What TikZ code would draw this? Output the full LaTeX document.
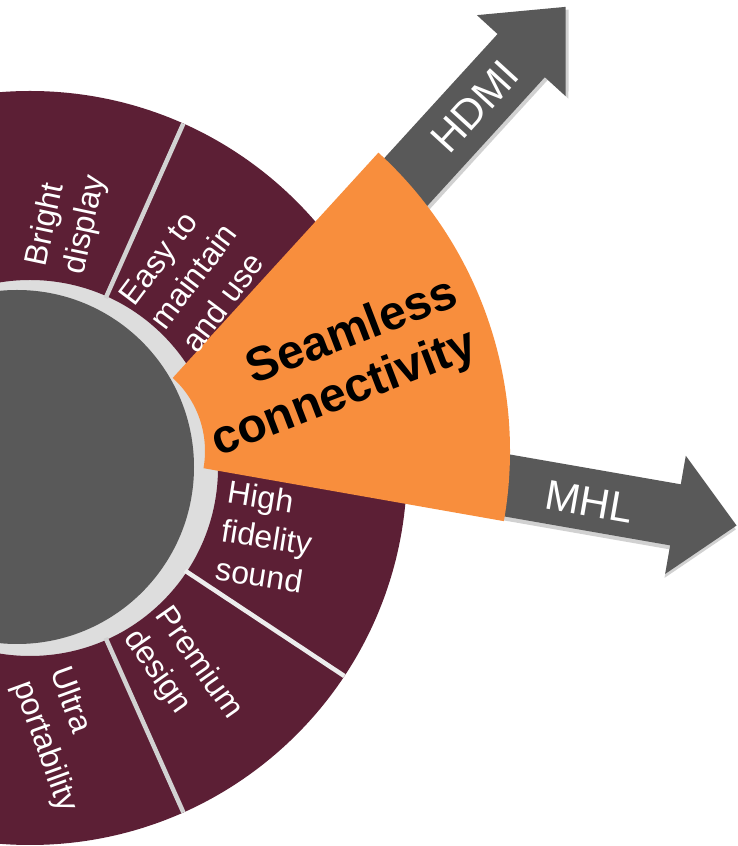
\documentclass[tikz,border=0pt]{standalone}
\usepackage{fontspec}
\setmainfont{Liberation Sans}
\usetikzlibrary{calc}
\definecolor{SegmentMaroon}{HTML}{5C1F35}
\definecolor{FocusOrange}{HTML}{F88E3D}
\definecolor{HubGray}{HTML}{595959}
\definecolor{RingGray}{HTML}{DDDDDD}
\definecolor{GapGrayA}{HTML}{D2D2D2}
\definecolor{GapGrayB}{HTML}{EDEDED}
\definecolor{BackdropGray}{HTML}{B3B3B3}
\pgfdeclareradialshading{BackdropGlow}{\pgfpoint{0bp}{0bp}}
{
  color(0bp)=(white); color(26.9bp)=(white);
  color(46.25bp)=(BackdropGray); color(50bp)=(BackdropGray)
}
\tikzset
{
  SegmentTextStyle/.style =
  {
    text = white,
    align = left,
    inner sep = 0pt,
    font = \fontsize{32}{39}\selectfont,
  },
  FocusTextStyle/.style =
  {
    text = black,
    align = right,
    inner sep = 0pt,
    font = \fontsize{48}{55}\selectfont\bfseries,
  },
  ArrowTextStyle/.style =
  {
    text = white,
    inner sep = 0pt,
    font = \fontsize{42}{48}\selectfont,
  },
  ArrowShadowStyle/.style =
  {
    fill = black,
    opacity = 0.18,
    yshift = -4pt,
  }
}

\begin{document}
\begin{tikzpicture}[x=1pt, y=1pt]
  \useasboundingbox (0,0) rectangle (737,846);
  \clip (0,0) rectangle (737,846);
  \shade[shading=BackdropGlow] (600,416) circle (800);

  \coordinate (hub) at (30,378);
  \coordinate (focus) at (106,395);

  \fill[RingGray] (hub) circle (190);
  \fill[SegmentMaroon, even odd rule] (hub) circle (377) (hub) circle (188);
  \draw[line width=4.5pt, GapGrayA] ($(hub)+(66:186)$) -- ($(hub)+(66:377)$);
  \draw[line width=4.5pt, GapGrayB] ($(hub)+(-33.5:186)$) -- ($(hub)+(-33.5:377)$);
  \draw[line width=4.5pt, GapGrayA] ($(hub)+(-66:186)$) -- ($(hub)+(-66:377)$);
  \node[circle, fill=HubGray, inner sep=0pt, minimum size=354pt] (hubdisk) at (17,379) {};

  \begin{scope}[shift={(focus)}, rotate=47.6]
    \fill[ArrowShadowStyle] (200,-72) -- (572,-72) -- (572,-100) -- (638,-40)
      -- (572,20) -- (572,-8) -- (200,-8) -- cycle;
    \fill[HubGray] (200,-72) -- (572,-72) -- (572,-100) -- (638,-40)
      -- (572,20) -- (572,-8) -- (200,-8) -- cycle;
    \node[ArrowTextStyle, rotate=47.6] (hdmi) at (503,-40) {HDMI};
  \end{scope}

  \begin{scope}[shift={(focus)}, rotate=-9.9]
    \fill[ArrowShadowStyle] (200,4) -- (572,4) -- (572,-25) -- (634,35)
      -- (572,95) -- (572,66) -- (200,66) -- cycle;
    \fill[HubGray] (200,4) -- (572,4) -- (572,-25) -- (634,35)
      -- (572,95) -- (572,66) -- (200,66) -- cycle;
    \node[ArrowTextStyle, rotate=-9.9] (mhl) at (485,33) {MHL};
  \end{scope}

  \fill[FocusOrange] ($(focus)+(-10:404)$) arc[start angle=-10, end angle=47.6, radius=404]
    -- ($(focus)+(47.6:99)$) arc[start angle=47.6, end angle=-10, radius=99] -- cycle;

  \node[FocusTextStyle, rotate=21] (seamless) at ($(focus)+(19.7:243)$) {Seamless\\connectivity};

  \node[SegmentTextStyle, rotate=78] (bright) at ($(hub)+(81.5:250)$) {Bright\\display};
  \node[SegmentTextStyle, rotate=53] (easy) at ($(hub)+(49.5:252)$) {Easy to\\maintain\\and use};
  \node[SegmentTextStyle, rotate=-9] (fidelity) at ($(hub)+(-16.2:247)$) {High\\fidelity\\sound};
  \node[SegmentTextStyle, rotate=-55] (premium) at ($(hub)+(-53.6:257)$) {Premium\\design};
  \node[SegmentTextStyle, rotate=-70] (ultra) at ($(hub)+(-83.1:274)$) {Ultra\\portability};
\end{tikzpicture}
\end{document}
